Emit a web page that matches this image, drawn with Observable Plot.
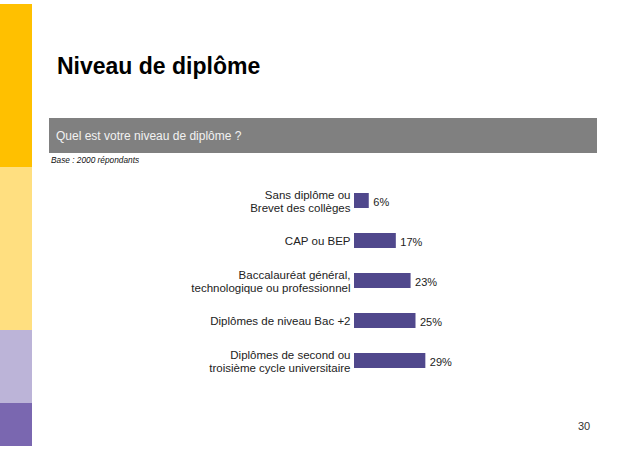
<!DOCTYPE html>
<html>
<head>
<meta charset="utf-8">
<script src="https://cdn.jsdelivr.net/npm/d3@7"></script>
<script src="https://cdn.jsdelivr.net/npm/@observablehq/plot@0.6"></script>
<style>
  html, body { margin: 0; padding: 0; background: #fff; }
  body { width: 638px; height: 451px; position: relative; overflow: hidden; font-family: "Liberation Sans", Arial, sans-serif; }
  .abs { position: absolute; }
  #title { left: 57px; top: 52px; font-size: 23px; font-weight: bold; color: #000; line-height: 28px; white-space: nowrap; }
  #banner { left: 49px; top: 118px; width: 548px; height: 35px; background: #808080; }
  #question { left: 56px; top: 128px; font-size: 12px; color: #f2f2f2; line-height: 16px; white-space: nowrap; }
  #base { left: 51px; top: 155px; font-size: 8.3px; font-style: italic; color: #111; line-height: 10px; white-space: nowrap; }
  #page { left: 578px; top: 419px; font-size: 11px; color: #333; line-height: 14px; }
  #chart { left: 0; top: 175px; }
</style>
</head>
<body>
<div class="abs" style="left:0;top:4px;width:32px;height:163px;background:#FFC000"></div>
<div class="abs" style="left:0;top:167px;width:32px;height:163px;background:#FFDF80"></div>
<div class="abs" style="left:0;top:330px;width:32px;height:73px;background:#BCB4D8"></div>
<div class="abs" style="left:0;top:403px;width:32px;height:43px;background:#7A67B0"></div>
<div id="title" class="abs">Niveau de diplôme</div>
<div id="banner" class="abs"></div>
<div id="question" class="abs">Quel est votre niveau de diplôme ?</div>
<div id="base" class="abs">Base : 2000 répondants</div>
<div id="page" class="abs">30</div>
<div id="chart" class="abs"></div>
<script>
const categories = [
  "Sans diplôme ou\nBrevet des collèges",
  "CAP ou BEP",
  "Baccalauréat général,\ntechnologique ou professionnel",
  "Diplômes de niveau Bac +2",
  "Diplômes de second ou\ntroisième cycle universitaire"
];
const values = [6, 17, 23, 25, 29];

const data = categories.map((c, i) => ({cat: c, value: values[i]}));

const chart = Plot.plot({
  width: 638,
  height: 210,
  marginLeft: 354,
  marginRight: 38,
  marginTop: 16.25,
  marginBottom: 14.6,
  style: {background: "transparent", fontFamily: "Liberation Sans, Arial, sans-serif"},
  x: {domain: [0, 100], axis: null},
  y: {domain: categories, axis: null, paddingInner: 0.62, paddingOuter: 0},
  marks: [
    Plot.barX(data, {x: "value", y: "cat", fill: "#50488C"}),
    Plot.text(data, {x: 0, y: "cat", text: "cat", textAnchor: "end", dx: -4, fontSize: 11.5, lineHeight: 1.13, fill: "#222"}),
    Plot.text(data, {x: "value", y: "cat", text: d => d.value + "%", textAnchor: "start", dx: 4, dy: 1, fontSize: 11, fill: "#222"})
  ]
});
document.getElementById("chart").appendChild(chart);
</script>
</body>
</html>
